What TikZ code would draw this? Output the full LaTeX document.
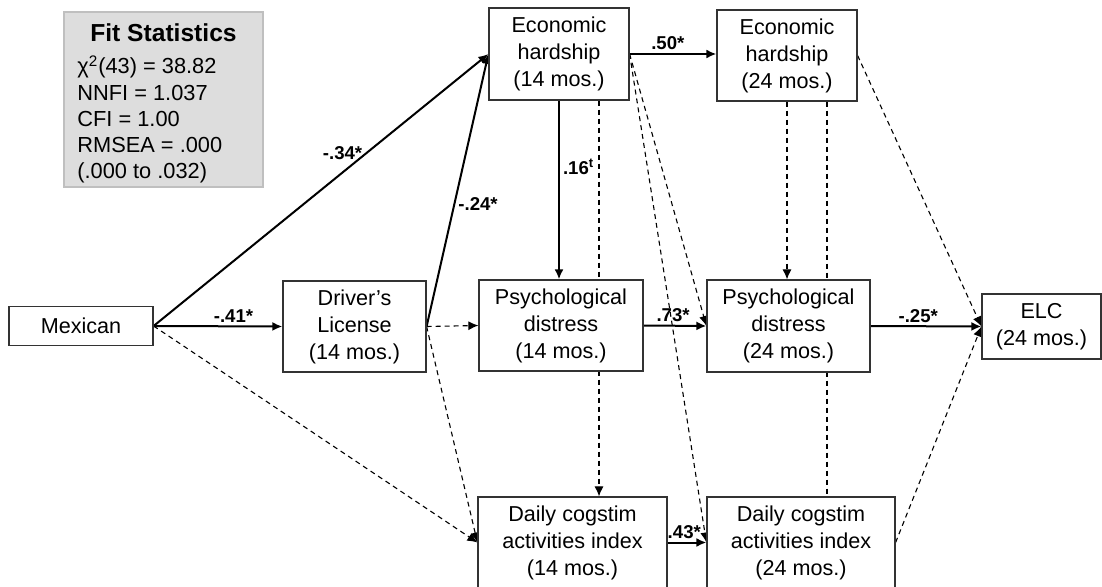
\documentclass[tikz,border=0pt]{standalone}
\usepackage{fontspec}
\setmainfont{Liberation Sans}
\usetikzlibrary{arrows.meta,backgrounds}
\newcommand{\pxunit}{0.5pt}
\definecolor{fitgray}{HTML}{DDDDDD}
\definecolor{fitedge}{HTML}{BFBFBF}
\tikzset{
    varsty/.style={draw=black!80,fill=white,rectangle,line width=0.6pt,inner sep=0pt,align=center,font=\fontsize{10.8}{13.5}\selectfont},
    fitsty/.style={draw=fitedge,fill=fitgray,rectangle,line width=0.6pt,minimum width=199*\pxunit,minimum height=175*\pxunit},
    headsty/.style={font=\bfseries\fontsize{12.3}{14}\selectfont,inner sep=0pt,anchor=base},
    bodysty/.style={font=\fontsize{10.9}{13.1}\selectfont,align=left,inner sep=0pt,anchor=north west},
    lblsty/.style={font=\bfseries\fontsize{9.3}{11}\selectfont,inner sep=1.5pt},
    sigsty/.style={->,line width=1pt},
    nssty/.style={->,line width=0.55pt,dash pattern=on 2.5pt off 2pt},
    corsty/.style={line width=0.55pt,dash pattern=on 2.5pt off 2pt},
}

\begin{document}
\begin{tikzpicture}[x=\pxunit,y=-\pxunit,>={Latex[length=5pt,width=4.5pt]}]
  \clip (0,0) rectangle (1102,587);

  % fit statistics
  \node (fit) [fitsty] at (163.5,99.5) {};
  \node (fithead) [headsty] at (163.5,42) {Fit Statistics};
  \node (fitbody) [bodysty] at (77,55) {χ\textsuperscript{2}(43) = 38.82\\NNFI = 1.037\\CFI = 1.00\\RMSEA = .000\\(.000 to .032)};

  % variables
  \node (mex) [varsty,minimum width=144*\pxunit,minimum height=39*\pxunit] at (81,326) {Mexican};
  \node (lic) [varsty,minimum width=143*\pxunit,minimum height=91*\pxunit] at (354.5,326.5) {Driver’s\\License\\(14 mos.)};
  \node (eh14) [varsty,minimum width=140*\pxunit,minimum height=92*\pxunit] at (559,54) {Economic\\hardship\\(14 mos.)};
  \node (eh24) [varsty,minimum width=140*\pxunit,minimum height=91*\pxunit] at (787,55.5) {Economic\\hardship\\(24 mos.)};
  \node (pd14) [varsty,minimum width=164*\pxunit,minimum height=91*\pxunit] at (561,325.5) {Psychological\\distress\\(14 mos.)};
  \node (pd24) [varsty,minimum width=163*\pxunit,minimum height=92*\pxunit] at (788.5,326) {Psychological\\distress\\(24 mos.)};
  \node (dc14) [varsty,minimum width=189*\pxunit,minimum height=91*\pxunit] at (572.5,542.5) {Daily cogstim\\activities index\\(14 mos.)};
  \node (dc24) [varsty,minimum width=188*\pxunit,minimum height=91*\pxunit] at (801,542.5) {Daily cogstim\\activities index\\(24 mos.)};
  \node (elc) [varsty,minimum width=119*\pxunit,minimum height=65*\pxunit] at (1041.5,326.5) {ELC\\(24 mos.)};

  % paths
  \begin{scope}[on background layer]
    \draw[sigsty] (mex.east) -- (eh14.west) node[lblsty,pos=0.635,anchor=east] {-.34*};
    \draw[sigsty] (mex.east) -- (lic.west) node[lblsty,pos=0.62,above] {-.41*};
    \draw[nssty] (mex.east) -- (dc14.west);
    \draw[sigsty] (lic.east) -- (eh14.west) node[lblsty,pos=0.45,anchor=west] {-.24*};
    \draw[nssty] (lic.east) -- (pd14.west);
    \draw[nssty] (lic.east) -- (dc14.west);
    \draw[sigsty] (eh14.south) -- (eh14.south |- pd14.north) node[lblsty,pos=0.37,anchor=west] {.16\textsuperscript{t}};
    \draw[nssty] ([xshift=40*\pxunit]eh14.south) -- ([xshift=40*\pxunit]eh14.south |- dc14.north);
    \draw[sigsty] (eh14.east) -- (eh14.east -| eh24.west) node[lblsty,pos=0.44,above] {.50*};
    \draw[nssty] (eh14.east) -- (pd24.west);
    \draw[nssty] (eh14.east) -- (dc24.west);
    \draw[nssty] (eh24.south) -- (eh24.south |- pd24.north);
    \draw[corsty] ([xshift=40*\pxunit]eh24.south) -- ([xshift=40*\pxunit]eh24.south |- dc24.north);
    \draw[nssty] (eh24.east) -- (elc.west);
    \draw[sigsty] (pd14.east) -- (pd24.west) node[lblsty,pos=0.47,above] {.73*};
    \draw[sigsty] (dc14.east) -- (dc24.west) node[lblsty,pos=0.43,above] {.43*};
    \draw[sigsty] (pd24.east) -- (elc.west) node[lblsty,pos=0.43,above] {-.25*};
    \draw[nssty] (dc24.east) -- (elc.west);
  \end{scope}
\end{tikzpicture}
\end{document}
